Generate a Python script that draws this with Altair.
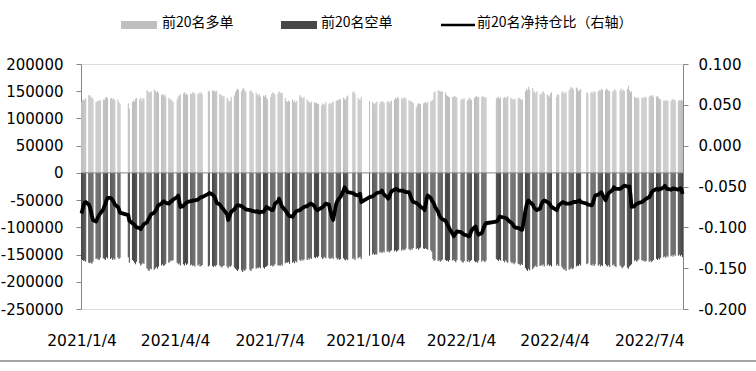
import altair as alt
import pandas as pd

# ---- trading calendar (exchange holidays on weekdays) ----
holidays = [
    "2021-02-11", "2021-02-12", "2021-02-15", "2021-02-16", "2021-02-17",
    "2021-04-05", "2021-05-03", "2021-05-04", "2021-05-05", "2021-06-14",
    "2021-09-20", "2021-09-21", "2021-10-01", "2021-10-04", "2021-10-05",
    "2021-10-06", "2021-10-07",
    "2022-01-03", "2022-01-31", "2022-02-01", "2022-02-02", "2022-02-03",
    "2022-02-04", "2022-04-04", "2022-04-05", "2022-05-02", "2022-05-03",
    "2022-05-04", "2022-06-03",
]

# ---- 前20名多单 (thousand lots), one row per month ----
long_k = [
    131,133,135,134,137, 143,142,140,138,136, 130,131,133,132,134, 135,134,138,140,137,
    136,138,135,137,134, 135,130,127, 128,118, 130,133,131,136,138,
    135,138,132,137,136, 152,150,147,148,150, 153,151,148,150,147, 143,145,142,144,140, 138,136,135,
    133,130, 135,140,142,145, 146,148,144,146,143, 146,145,148,147,146, 145,147,146,148,145,
    150,151, 152,150,151,149,151, 145,143,142,140,141, 138,135,130,133,140, 142,
    148,152,155,153, 150,154,156,152,149, 150,152,148,146, 147,144,142,145,140, 142,140,143,
    138,135, 140,145,148,146,144, 146,150,148,145,147, 138,132,130,133,131, 135,130,133,129,132,
    143,140,138,136,140, 135,132,130,128,131, 130,128,129,127,126, 124,128,126,125,130, 127,128,
    125,129,131, 132,134,133,136,135, 138,136,134,140,142, 148,150,145, 138,135,134,140,
    132, 130,128,126,129,131, 128,130,132,131,129, 130,132,128,131,133,
    135,138,136,140,137, 138,135,137,139,136, 134,132,131,130,128, 120,125,128,127,126, 128,129,
    130,128,130, 131,133,135,148,150, 152,151,150,149,150, 148,143,141,140,139, 140,139,141,140,138,
    134,136,135,137, 133,135,138,136,134, 138,140,141,139,140, 139,141,140,138,139,
    137,138,140,136,139, 138,140,137,139,141, 138,136,135,134,136, 137,
    138,136,134,135, 150,155,152,158,153, 156,150,148,146,150, 145,143,148,150,146, 144,142,140,146,
    148, 140,145,143, 148,150,147,145,149, 152,155,158,156,153, 157,155,150,152,154,
    148,146, 147,149,146,150,148, 150,152,151,154,153, 152,155,153,150,151, 149,152,
    154,150, 152,155,150,153,151, 154,160,152,148,150, 140,138,137,139,136, 138,139,137,140,
    139, 140,142,141,143,139, 140,141,138,136,135, 133,132,134,131,133, 132,135,136,134,133,
    132,134,133,135,132,
]

# ---- 前20名空单 (thousand lots, shown negative) ----
short_k = [
    158,160,162,161,163, 165,166,164,167,163, 158,157,159,160,156, 157,158,160,155,157,
    158,156,160,157,159, 155,158,156, 155,165, 160,162,165,168,163,
    166,170,168,165,167, 175,178,180,176,177, 178,175,173,176,172, 170,168,171,169,167, 165,163,160,
    162,160, 165,168,166,170, 168,170,166,169,167, 170,168,171,169,172, 170,168,172,171,169,
    172,170, 171,173,170,172,169, 170,172,174,171,170, 172,175,171,173,170, 174,
    176,178,180,177, 179,182,178,180,177, 178,180,176,175, 176,174,175,173,175, 174,176,173,
    172,170, 171,169,172,170,168, 170,169,171,168,170, 166,164,165,163,167, 165,163,166,162,164,
    160,162,158,161,159, 160,157,159,156,158, 155,157,154,156,153, 155,158,156,154,157, 156,158,
    157,155,158, 156,159,157,160,158, 157,159,161,158,160, 158,156,160, 157,155,154,158,
    152, 150,148,151,149,150, 146,145,147,144,146, 145,143,146,144,142,
    144,142,145,143,141, 143,140,142,141,139, 140,142,139,141,138, 140,138,141,139,137, 139,140,
    138,140,141, 142,145,158,162,160, 162,160,163,161,159, 160,162,161,163,160, 161,159,162,164,160,
    161,163,165,162, 163,161,164,162,160, 162,164,163,165,161, 163,160,162,164,161,
    158,160,162,159,161, 162,164,160,163,165, 163,166,164,168,165, 167,
    168,170,167,169, 175,178,180,176,179, 177,174,172,170,173, 171,169,170,168,172, 170,168,171,169,
    172, 170,168,171, 172,175,178,176,180, 178,176,174,177,175, 172,170,171,168,170,
    168,166, 169,170,167,171,168, 170,168,172,169,171, 168,170,172,169,173, 170,168,
    171,173, 170,172,175,173,170, 174,176,172,170,168, 162,160,163,161,159, 160,162,161,163,
    162, 163,161,164,162,160, 158,160,157,159,156, 155,153,156,152,154, 153,151,154,150,152,
    152,150,153,151,155,
]

# ---- 前20名净持仓比 (right axis) ----
ratio = [
    -0.083,-0.078,-0.073,-0.070,-0.069, -0.072,-0.075,-0.080,-0.086,-0.091, -0.093,-0.090,-0.087,-0.085,-0.083, -0.078,-0.074,-0.071,-0.067,-0.064,
    -0.064,-0.065,-0.067,-0.069,-0.072, -0.075,-0.078,-0.082, -0.085,-0.092, -0.095,-0.096,-0.097,-0.099,-0.100,
    -0.101,-0.102,-0.100,-0.098,-0.096, -0.094,-0.091,-0.089,-0.086,-0.084, -0.082,-0.080,-0.078,-0.075,-0.073, -0.071,-0.069,-0.068,-0.069,-0.070, -0.071,-0.070,-0.068,
    -0.068,-0.066, -0.063,-0.061,-0.068,-0.075, -0.074,-0.072,-0.071,-0.070,-0.069, -0.068,-0.068,-0.067,-0.067,-0.067, -0.066,-0.065,-0.064,-0.063,-0.063,
    -0.059,-0.058, -0.060,-0.061,-0.063,-0.066,-0.070, -0.072,-0.074,-0.076,-0.077,-0.079, -0.084,-0.091,-0.088,-0.084,-0.081, -0.078,
    -0.076,-0.074,-0.073,-0.073, -0.074,-0.075,-0.076,-0.077,-0.078, -0.079,-0.079,-0.080,-0.080, -0.081,-0.080,-0.081,-0.082,-0.081, -0.081,-0.079,-0.077,
    -0.075,-0.076, -0.078,-0.079,-0.079,-0.076,-0.071, -0.068,-0.065,-0.068,-0.072,-0.075, -0.079,-0.081,-0.083,-0.085,-0.086, -0.087,-0.085,-0.083,-0.081,-0.080,
    -0.079,-0.078,-0.077,-0.076,-0.075, -0.074,-0.073,-0.072,-0.071,-0.071, -0.074,-0.077,-0.078,-0.079,-0.078, -0.076,-0.075,-0.074,-0.072,-0.071, -0.072,-0.078,
    -0.083,-0.088,-0.091, -0.071,-0.068,-0.066,-0.064,-0.063, -0.055,-0.051,-0.053,-0.055,-0.057, -0.058,-0.059,-0.060, -0.061,-0.060,-0.059,-0.069,
    -0.063, -0.062,-0.061,-0.060,-0.059,-0.058, -0.057,-0.057,-0.055,-0.058,-0.060, -0.063,-0.065,-0.063,-0.059,-0.056,
    -0.054,-0.053,-0.053,-0.054,-0.055, -0.055,-0.055,-0.056,-0.056,-0.057, -0.057,-0.060,-0.064,-0.067,-0.069, -0.070,-0.071,-0.072,-0.073,-0.075, -0.077,-0.079,
    -0.072,-0.064,-0.061, -0.064,-0.067,-0.069,-0.071,-0.075, -0.081,-0.085,-0.087,-0.089,-0.090, -0.092,-0.094,-0.097,-0.099,-0.102, -0.108,-0.111,-0.109,-0.107,-0.105,
    -0.106,-0.107,-0.108,-0.109, -0.110,-0.111,-0.111,-0.108,-0.104, -0.100,-0.099,-0.103,-0.107,-0.109, -0.107,-0.104,-0.100,-0.097,-0.095,
    -0.093,-0.092,-0.090,-0.087,-0.087, -0.088,-0.088,-0.089,-0.089,-0.091, -0.094,-0.095,-0.097,-0.099,-0.100, -0.101,
    -0.101,-0.102,-0.103,-0.103, -0.079,-0.073,-0.069,-0.067,-0.069, -0.072,-0.075,-0.077,-0.078,-0.079, -0.077,-0.073,-0.070,-0.068,-0.067, -0.069,-0.070,-0.071,-0.073,
    -0.075, -0.079,-0.076,-0.073, -0.070,-0.069,-0.070,-0.070,-0.071, -0.071,-0.071,-0.070,-0.070,-0.069, -0.069,-0.068,-0.068,-0.067,-0.069,
    -0.071,-0.072, -0.073,-0.073,-0.070,-0.065,-0.061, -0.060,-0.059,-0.058,-0.057,-0.060, -0.067,-0.064,-0.060,-0.058,-0.057, -0.054,-0.051,
    -0.052,-0.053, -0.053,-0.052,-0.051,-0.050,-0.049, -0.050,-0.051,-0.050,-0.060,-0.075, -0.074,-0.072,-0.071,-0.071,-0.070, -0.069,-0.068,-0.067,-0.066,
    -0.065, -0.063,-0.061,-0.058,-0.056,-0.055, -0.053,-0.053,-0.054,-0.053,-0.053, -0.051,-0.049,-0.051,-0.053,-0.053, -0.054,-0.053,-0.052,-0.053,-0.053,
    -0.054,-0.053,-0.052,-0.053,-0.059,
]

tick_dates = ["2021-01-04", "2021-04-04", "2021-07-04", "2021-10-04",
              "2022-01-04", "2022-04-04", "2022-07-04"]
left_ticks = [-250000, -200000, -150000, -100000, -50000, 0, 50000, 100000, 150000, 200000]
right_ticks = [-0.2, -0.15, -0.1, -0.05, 0.0, 0.05, 0.1]

# ---- build table ----
EPOCH = pd.Timestamp("1970-01-01")
DAY = 86400000


def ms(d):
    return int((pd.Timestamp(d) - EPOCH) / pd.Timedelta(milliseconds=1))


bdays = pd.bdate_range("2021-01-04", "2022-08-05")
dates = [d for d in bdays if d.strftime("%Y-%m-%d") not in set(holidays)]
n = min(len(dates), len(long_k), len(short_k), len(ratio))
t = [ms(d) for d in dates[:n]]
df = pd.DataFrame({
    "t": t,
    "t0": [v - DAY / 2 for v in t],
    "t1": [v + DAY / 2 for v in t],
    "long": [v * 1000 for v in long_k[:n]],
    "short": [-v * 1000 for v in short_k[:n]],
    "ratio": ratio[:n],
})

FONT = "DejaVu Sans"
GRAY = "#868686"
LIGHT = "#BFBFBF"
DARK = "#474747"

xs = alt.Scale(domain=[ms("2021-01-04") - DAY / 2, ms("2022-08-05") + DAY / 2],
               nice=False, zero=False)
xaxis = alt.Axis(values=[ms(d) for d in tick_dates],
                 labelExpr="utcFormat(datum.value, '%Y/%-m/%-d')",
                 domain=False, ticks=False, grid=False, title=None,
                 labelPadding=24, labelFont=FONT, labelFontSize=15.5,
                 labelColor="#000000", labelFlush=False, labelOverlap=False,
                 labelBound=False)
ys = alt.Scale(domain=[-250000, 200000], nice=False, zero=False)
yaxis = alt.Axis(values=left_ticks, grid=False, title=None,
                 labelExpr="datum.value < 0 ? '-' + format(-datum.value, 'd') : format(datum.value, 'd')",
                 tickSize=5, tickColor=GRAY, domainColor=GRAY, labelPadding=13,
                 labelFont=FONT, labelFontSize=15, labelColor="#000000")
rs = alt.Scale(domain=[-0.2, 0.1], nice=False, zero=False)
raxis = alt.Axis(orient="right", values=right_ticks, grid=False, title=None,
                 labelExpr="datum.value < 0 ? '-' + format(-datum.value, '.3f') : format(datum.value, '.3f')",
                 tickSize=5, tickColor=GRAY, domainColor=GRAY, labelPadding=10,
                 labelFont=FONT, labelFontSize=15, labelColor="#000000")

base = alt.Chart(df)
long_bar = base.mark_bar(color=LIGHT).encode(
    x=alt.X("t0:Q", scale=xs, axis=xaxis), x2="t1:Q",
    y=alt.Y("long:Q", scale=ys, axis=yaxis), y2=alt.Y2Datum(0))
short_bar = base.mark_bar(color=DARK).encode(
    x=alt.X("t0:Q", scale=xs, axis=xaxis), x2="t1:Q",
    y=alt.Y("short:Q", scale=ys, axis=yaxis), y2=alt.Y2Datum(0))
zero_rule = alt.Chart(pd.DataFrame({"z": [0]})).mark_rule(color=GRAY, strokeWidth=1).encode(
    y=alt.Y("z:Q", scale=ys, axis=yaxis))

one = alt.Chart(pd.DataFrame({"a": [0]}))
leg_names = ["前20名多单", "前20名空单", "前20名净持仓比（右轴）"]
sw1 = one.mark_rect(color=LIGHT).encode(
    x=alt.value(40), x2=alt.value(76), y=alt.value(-43), y2=alt.value(-35))
tx1 = one.mark_text(align="left", baseline="middle", font="Noto Sans CJK SC",
                    fontSize=14, color="#000000").encode(
    x=alt.value(81), y=alt.value(-41), text=alt.value(leg_names[0]))
sw2 = one.mark_rect(color=DARK).encode(
    x=alt.value(200), x2=alt.value(236), y=alt.value(-43), y2=alt.value(-35))
tx2 = one.mark_text(align="left", baseline="middle", font="Noto Sans CJK SC",
                    fontSize=14, color="#000000").encode(
    x=alt.value(240), y=alt.value(-41), text=alt.value(leg_names[1]))
sw3 = one.mark_rule(color="#000000", strokeWidth=2.5).encode(
    x=alt.value(360), x2=alt.value(394), y=alt.value(-39))
tx3 = one.mark_text(align="left", baseline="middle", font="Noto Sans CJK SC",
                    fontSize=14, color="#000000").encode(
    x=alt.value(396), y=alt.value(-41), text=alt.value(leg_names[2]))
border = one.mark_rule(color=GRAY, strokeWidth=1.5).encode(
    x=alt.value(-81), x2=alt.value(675), y=alt.value(297))

bars = alt.layer(long_bar, short_bar, zero_rule, sw1, tx1, sw2, tx2, sw3, tx3, border)

line = base.mark_line(color="#000000", strokeWidth=3.8, strokeJoin="round").encode(
    x=alt.X("t:Q", scale=xs, axis=xaxis),
    y=alt.Y("ratio:Q", scale=rs, axis=raxis))

chart = alt.layer(bars, line).resolve_scale(y="independent").properties(
    width=602, height=245,
    autosize=alt.AutoSizeParams(type="none"),
    padding={"left": 81, "top": 64, "right": 73, "bottom": 62},
).configure_view(stroke=None).configure(background="white")

chart.save("out.html", embed_options={"renderer": "svg", "actions": False})
